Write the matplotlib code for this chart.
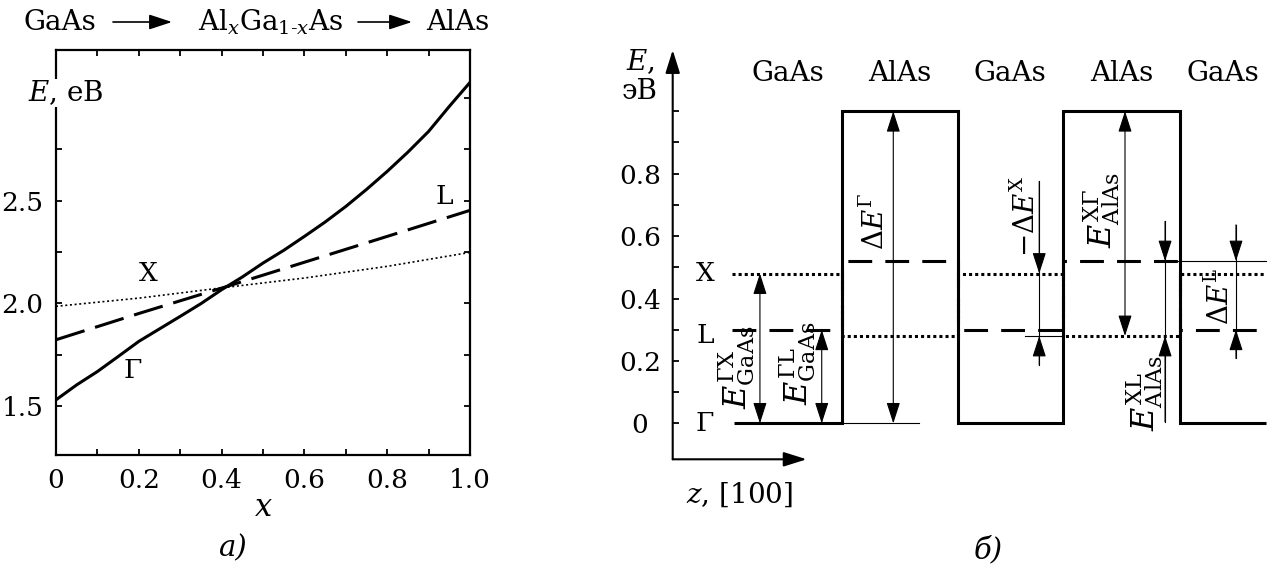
import numpy as np
import matplotlib.pyplot as plt
from matplotlib.patches import FancyArrowPatch

plt.rcParams['font.family'] = 'serif'
plt.rcParams['font.serif'] = ['DejaVu Serif', 'Liberation Serif']
plt.rcParams['mathtext.fontset'] = 'dejavuserif'

# --- panel a: band edges of AlxGa1-xAs vs composition
x_comp = [0, 0.05, 0.1, 0.15, 0.2, 0.25, 0.3, 0.35, 0.4, 0.45, 0.5, 0.55, 0.6, 0.65,
          0.7, 0.75, 0.8, 0.85, 0.9, 0.95, 1.0]
E_gamma = [1.529, 1.602, 1.667, 1.74, 1.814, 1.875, 1.936, 1.998, 2.066, 2.128, 2.196,
           2.258, 2.326, 2.396, 2.472, 2.555, 2.643, 2.737, 2.838, 2.96, 3.077]
x_lin = [0, 0.2, 0.4, 0.6, 0.8, 1.0]
E_L = [1.822, 1.95, 2.074, 2.20, 2.326, 2.453]
E_X = [1.985, 2.025, 2.075, 2.123, 2.18, 2.248]

# --- panel b: GaAs/AlAs superlattice band profile
layers = ['GaAs', 'AlAs', 'GaAs', 'AlAs', 'GaAs']
edges = [0.58, 1.594, 2.689, 3.679, 4.786, 5.597]
lev_gamma = [0, 1.0, 0, 1.0, 0]
lev_X = [0.48, 0.28, 0.48, 0.28, 0.48]
lev_L = [0.30, 0.52, 0.30, 0.52, 0.30]

W, H = 1279, 569
fig = plt.figure(figsize=(W / 100, H / 100), dpi=100)

# ---------------- panel a
axL = fig.add_axes([56 / W, 1 - 455 / H, 414 / W, 405 / H])
axL.plot(x_comp, E_gamma, color='k', lw=2.2)
axL.plot(x_lin, E_L, color='k', lw=2.2, dashes=(9.8, 3.6))
axL.plot(x_lin, E_X, color='k', lw=1.2, dashes=(1.2, 1.6))
axL.set_xlim(0, 1.0)
axL.set_ylim(1.26, 3.235)
axL.set_xticks([0, 0.2, 0.4, 0.6, 0.8, 1.0])
axL.set_xticklabels(['0', '0.2', '0.4', '0.6', '0.8', '1.0'])
axL.set_xticks(np.arange(0.1, 1.0, 0.2), minor=True)
axL.set_yticks([1.5, 2.0, 2.5])
axL.set_yticklabels(['1.5', '2.0', '2.5'])
axL.set_yticks([1.75, 2.25, 2.75, 3.0], minor=True)
axL.tick_params(which='both', direction='in', top=True, right=True,
                length=4, width=1.3, labelsize=19, pad=9)
for s in axL.spines.values():
    s.set_linewidth(1.6)
axL.set_xlabel('$x$', fontsize=22, labelpad=0)

axL.text(0.937, 2.52, 'L', fontsize=19, ha='center', va='center')
axL.text(0.222, 2.146, 'X', fontsize=19, ha='center', va='center')
axL.text(0.186, 1.673, r'$\Gamma$', fontsize=19, ha='center', va='center')

fig.text(28 / W, 1 - 93 / H, '$E$, eB', fontsize=20, ha='left', va='center',
         bbox=dict(facecolor='white', edgecolor='none', pad=0), zorder=5)

# header: GaAs -> AlxGa1-xAs -> AlAs
yh = 1 - 22 / H
fig.text(59.5 / W, yh, 'GaAs', fontsize=20, ha='center', va='center')
fig.text(271 / W, yh, r'Al$_x$Ga$_{1\text{-}x}$As', fontsize=20, ha='center', va='center')
fig.text(457.5 / W, yh, 'AlAs', fontsize=20, ha='center', va='center')
for x0, x1 in [(113, 172), (358, 412)]:
    fig.add_artist(FancyArrowPatch((x0 / W, yh), (x1 / W, yh), transform=fig.transFigure,
                                   arrowstyle='-|>,head_length=0.7,head_width=0.23',
                                   mutation_scale=20, lw=1.2, color='k',
                                   shrinkA=0, shrinkB=0))

fig.text(232 / W, 1 - 548 / H, 'а)', fontsize=21, style='italic', ha='center', va='center')

# ---------------- panel b
axR = fig.add_axes([672.7 / W, 1 - 459.3 / H, (W - 672.7) / W, 409.3 / H])
zmax = (W - 672.7) / 106
y0, y1 = -0.115, 1.196
axR.set_xlim(0, zmax)
axR.set_ylim(y0, y1)
for s in axR.spines.values():
    s.set_visible(False)
axR.set_xticks([])
axR.set_yticks([0, 0.2, 0.4, 0.6, 0.8])
axR.set_yticklabels(['0', '0.2', '0.4', '0.6', '0.8'])
axR.set_yticks([0.1, 0.3, 0.5, 0.7, 0.9, 1.0], minor=True)
axR.tick_params(which='both', direction='in', length=4, width=1.3, labelsize=19, pad=23.5)
for lab in axR.get_yticklabels():
    lab.set_horizontalalignment('center')

# coordinate arrows
axR.annotate('', xy=(0, y1), xytext=(0, y0), annotation_clip=False,
             arrowprops=dict(arrowstyle='-|>,head_length=0.7,head_width=0.22',
                             mutation_scale=20, lw=1.5, color='k', shrinkA=0, shrinkB=0))
axR.annotate('', xy=(1.264, y0), xytext=(0, y0), annotation_clip=False,
             arrowprops=dict(arrowstyle='-|>,head_length=0.7,head_width=0.22',
                             mutation_scale=20, lw=1.5, color='k', shrinkA=0, shrinkB=0))

# band profiles
axR.stairs(lev_X, [0.555] + edges[1:], baseline=None, color='k', lw=2.2,
           linestyle=(0, (1.0, 1.0)))
axR.stairs(lev_L, [0.555] + edges[1:], baseline=None, color='k', lw=2.2,
           linestyle=(0, (7.8, 4.3)))
axR.stairs(lev_gamma, edges, baseline=None, color='k', lw=2.2)

centers = [(a + b) / 2 for a, b in zip(edges[:-1], edges[1:])]
for name, zc in zip(layers, centers):
    axR.text(zc, 1.122, name, fontsize=20, ha='center', va='center')

axR.text(0.305, lev_X[0], 'X', fontsize=19, ha='center', va='center')
axR.text(0.305, lev_L[0] - 0.02, 'L', fontsize=19, ha='center', va='center')
axR.text(0.305, lev_gamma[0], r'$\Gamma$', fontsize=19, ha='center', va='center')
axR.text(-0.308, 1.159, '$E$,', fontsize=20, ha='center', va='center', clip_on=False)
axR.text(-0.308, 1.063, 'эВ', fontsize=20, ha='center', va='center', clip_on=False)
axR.text(0.625, -0.23, '$z$, [100]', fontsize=20, ha='center', va='center', clip_on=False)

head = '-|>,head_length=0.65,head_width=0.21'
both = '<|-|>,head_length=0.65,head_width=0.21'


def span(z, ea, eb):
    axR.annotate('', xy=(z, eb), xytext=(z, ea), annotation_clip=False,
                 arrowprops=dict(arrowstyle=both, mutation_scale=20, lw=0.8,
                                 color='k', shrinkA=0, shrinkB=0))


def pinch(z, e_top, e_bot, far_top, far_bot):
    # arrows pointing inward from outside the gap
    axR.plot([z, z], [far_bot, far_top], color='k', lw=0.8)
    for far, tip in [(far_top, e_top), (far_bot, e_bot)]:
        axR.annotate('', xy=(z, tip), xytext=(z, far), annotation_clip=False,
                     arrowprops=dict(arrowstyle=head, mutation_scale=20, lw=0.8,
                                     color='k', shrinkA=0, shrinkB=0))


span(0.823, lev_gamma[0], lev_X[0])
span(1.406, lev_gamma[0], lev_L[0])
span(2.081, lev_gamma[0], lev_gamma[1])
span(4.267, lev_X[3], lev_gamma[3])
pinch(3.458, lev_X[2], lev_X[3], 0.775, 0.187)
pinch(4.645, lev_L[3], lev_X[3], 0.647, 0.005)
pinch(5.314, lev_L[3], lev_L[4], 0.636, 0.208)

# extension lines
axR.plot([edges[1], 2.327], [lev_gamma[0]] * 2, color='k', lw=0.8)
axR.plot([3.32, edges[3]], [lev_X[3]] * 2, color='k', lw=0.8)
axR.plot([4.645, edges[5]], [lev_L[3]] * 2, color='k', lw=0.8)

lab_kw = dict(rotation=90, ha='center', va='center')
axR.text(0.604, 0.18, r'$E^{\Gamma\mathrm{X}}_{\mathrm{GaAs}}$', fontsize=23, **lab_kw)
axR.text(1.182, 0.193, r'$E^{\Gamma\mathrm{L}}_{\mathrm{GaAs}}$', fontsize=23, **lab_kw)
axR.text(1.908, 0.646, r'$\Delta E^{\Gamma}$', fontsize=20, **lab_kw)
axR.text(3.34, 0.662, r'$-\Delta E^{\mathrm{X}}$', fontsize=20, **lab_kw)
axR.text(4.047, 0.684, r'$E^{\mathrm{X}\Gamma}_{\mathrm{AlAs}}$', fontsize=23, **lab_kw)
axR.text(4.456, 0.096, r'$E^{\mathrm{XL}}_{\mathrm{AlAs}}$', fontsize=23, **lab_kw)
axR.text(5.163, 0.406, r'$\Delta E^{\mathrm{L}}$', fontsize=20, **lab_kw)

fig.text(988 / W, 1 - 550 / H, 'б)', fontsize=21, style='italic', ha='center', va='center')

fig.savefig('out.png', dpi=100)
